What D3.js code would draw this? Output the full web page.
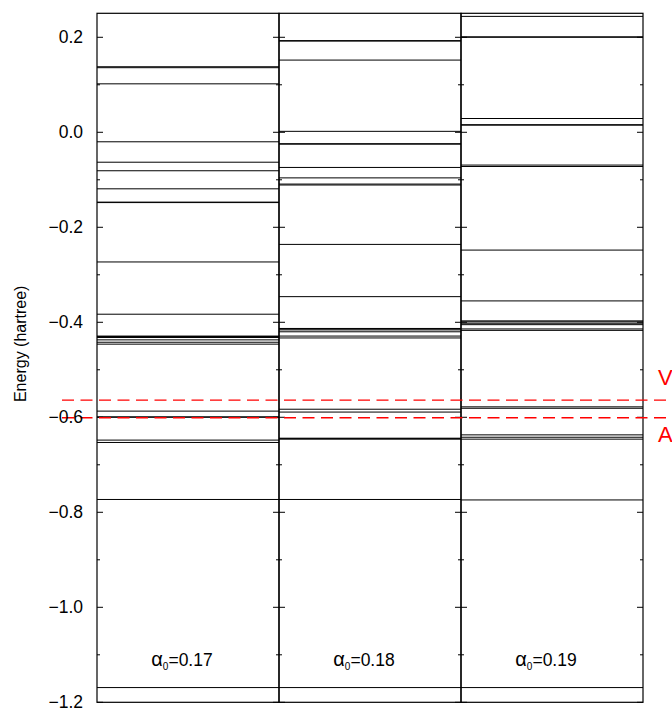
<!DOCTYPE html>
<html><head><meta charset="utf-8">
<script src="https://cdn.jsdelivr.net/npm/d3@7"></script>
<style>body{margin:0;background:#fff}svg{display:block}text{font-family:"Liberation Sans",Arial,sans-serif}</style>
</head><body>
<script>
const alphas = ["0.17", "0.18", "0.19"];
const levels017 = [0.138, 0.136, 0.102, -0.020, -0.063, -0.081, -0.119, -0.148, -0.147, -0.273, -0.383,
  -0.429, -0.430, -0.432, -0.437, -0.442, -0.446, -0.587, -0.599, -0.600, -0.648, -0.653, -0.773, -1.169];
const levels018 = [0.193, 0.192, 0.152, 0.002, -0.025, -0.024, -0.074, -0.096, -0.109, -0.111, -0.236, -0.346,
  -0.413, -0.414, -0.416, -0.420, -0.429, -0.433, -0.583, -0.589, -0.644, -0.645, -0.646, -0.773, -1.169];
const levels019 = [0.244, 0.201, 0.200, 0.029, 0.016, 0.015, -0.069, -0.072, -0.248, -0.355,
  -0.397, -0.399, -0.402, -0.405, -0.414, -0.417, -0.578, -0.581, -0.637, -0.642, -0.646, -0.774, -1.169];
const refNames = ["V", "A"];
const refValues = [-0.564, -0.601];
const majorTicks = [0.2, 0.0, -0.2, -0.4, -0.6, -0.8, -1.0, -1.2];
const minorTicks = [0.1, -0.1, -0.3, -0.5, -0.7, -0.9, -1.1];
const yDomain = [-1.2, 0.2505];
const yLabel = "Energy (hartree)";

const allLevels = [levels017, levels018, levels019];
const W = 672, H = 711;
const m = {left: 97, right: 643, top: 13.3, bottom: 702.3};

const svg = d3.select("body").append("svg").attr("width", W).attr("height", H);
const y = d3.scaleLinear().domain(yDomain).range([m.bottom, m.top]);
const xp = d3.scaleBand().domain(alphas).range([m.left, m.right]).paddingInner(0).paddingOuter(0);

alphas.forEach((a, i) => {
  const g = svg.append("g");
  const x0 = xp(a), x1 = xp(a) + xp.bandwidth();
  g.selectAll("line.lev").data(allLevels[i]).join("line")
    .attr("x1", x0).attr("x2", x1)
    .attr("y1", d => y(d)).attr("y2", d => y(d))
    .attr("stroke", "#000").attr("stroke-width", 1);
  const tick = (vals, len, fromRight) => g.append("g").selectAll("line").data(vals).join("line")
    .attr("x1", fromRight ? x1 - len : x0).attr("x2", fromRight ? x1 : x0 + len)
    .attr("y1", d => y(d)).attr("y2", d => y(d))
    .attr("stroke", "#000").attr("stroke-width", 1);
  tick(majorTicks, 6, false); tick(majorTicks, 6, true);
  tick(minorTicks, 3, false); tick(minorTicks, 3, true);
  g.append("rect").attr("x", x0).attr("y", m.top).attr("width", xp.bandwidth())
    .attr("height", m.bottom - m.top).attr("fill", "none").attr("stroke", "#000").attr("stroke-width", 1.2);
  const t = g.append("text").attr("x", (x0 + x1) / 2 - 6).attr("y", y(-1.12) + 2)
    .attr("text-anchor", "middle").attr("font-size", 17.5).attr("fill", "#000");
  t.append("tspan").attr("font-size", 20).text("α");
  t.append("tspan").attr("font-size", 10).attr("dy", 4).text("0");
  t.append("tspan").attr("dy", -4).text("=" + a);
});

svg.selectAll("line.ref").data(refValues).join("line")
  .attr("x1", 62).attr("x2", W).attr("y1", d => y(d)).attr("y2", d => y(d))
  .attr("stroke", "#ff0000").attr("stroke-width", 1.3).attr("stroke-dasharray", "12,6.5");
svg.selectAll("text.ref").data(refNames).join("text")
  .attr("x", 658).attr("y", (d, i) => i === 0 ? y(refValues[0]) - 15 : y(refValues[1]) + 24)
  .attr("font-size", 22).attr("fill", "#ff0000").text(d => d);

const fmt = d => d3.format(".1f")(d).replace("-", "\u2212");
svg.selectAll("text.yl").data(majorTicks).join("text")
  .attr("x", 83).attr("y", d => y(d) + 6).attr("text-anchor", "end")
  .attr("font-size", 17.5).attr("fill", "#000").text(fmt);

svg.append("text").attr("transform", `translate(26,${(m.top + m.bottom) / 2 - 14}) rotate(-90)`)
  .attr("text-anchor", "middle").attr("font-size", 16).attr("fill", "#000").text(yLabel);
</script>
</body></html>
